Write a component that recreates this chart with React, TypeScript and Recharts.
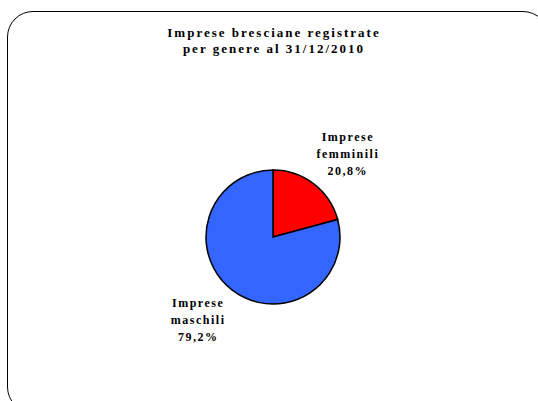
import { PieChart, Pie, Cell } from 'recharts';

const categorie = ['Imprese femminili', 'Imprese maschili'];
const percentuali = [20.8, 79.2];
const colori = ['#FF0000', '#3366FF'];
const titolo = ['Imprese bresciane registrate', 'per genere al 31/12/2010'];

const dati = categorie.map((nome, i) => ({ nome, valore: percentuali[i] }));

const RAD = Math.PI / 180;

function Etichetta(props: any) {
  const { cx, cy, midAngle, outerRadius, payload } = props;
  const r = outerRadius + 38;
  const c = Math.cos(-midAngle * RAD);
  const x = cx + r * c + Math.sign(c) * 11;
  const y = cy + r * Math.sin(-midAngle * RAD);
  const parole = String(payload.nome).split(' ');
  const valore = payload.valore.toFixed(1).replace('.', ',') + '%';
  const righe = [parole[0], parole[1], valore];
  return (
    <text
      x={x}
      y={y}
      textAnchor="middle"
      fontFamily="'Liberation Serif', serif"
      fontWeight="bold"
      fontSize={12}
      letterSpacing={1.5}
      fill="#000"
    >
      {righe.map((t, i) => (
        <tspan key={i} x={x} y={y + (i - 1) * 17 + 4}>
          {t}
        </tspan>
      ))}
    </text>
  );
}

export default function App() {
  return (
    <div style={{ position: 'absolute', left: 0, top: 0, width: 538, height: 401, overflow: 'hidden', background: '#fff' }}>
      <div
        style={{
          position: 'absolute',
          left: 7,
          top: 11,
          width: 540,
          height: 400,
          border: '1.5px solid #000',
          borderRadius: 26,
        }}
      />
      <div
        style={{
          position: 'absolute',
          left: 0,
          top: 25,
          width: 548,
          textAlign: 'center',
          fontFamily: "'Liberation Serif', serif",
          fontWeight: 'bold',
          fontSize: 13,
          letterSpacing: 2,
          lineHeight: '16px',
          color: '#000',
        }}
      >
        {titolo.map((t, i) => (
          <div key={i}>{t}</div>
        ))}
      </div>
      <div style={{ position: 'absolute', left: 0, top: 0 }}>
        <PieChart width={538} height={401} margin={{ top: 0, right: 0, bottom: 0, left: 0 }}>
          <Pie
            data={dati}
            dataKey="valore"
            nameKey="nome"
            cx={273}
            cy={237}
            outerRadius={67}
            startAngle={90}
            endAngle={-270}
            stroke="#000"
            strokeWidth={1.5}
            label={Etichetta}
            labelLine={false}
            isAnimationActive={false}
          >
            {dati.map((_, i) => (
              <Cell key={i} fill={colori[i]} />
            ))}
          </Pie>
        </PieChart>
      </div>
    </div>
  );
}
